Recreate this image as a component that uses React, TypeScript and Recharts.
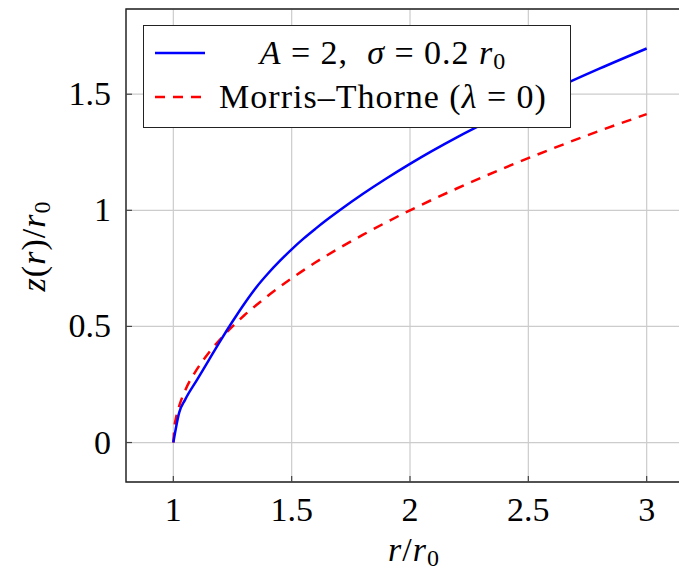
import React from 'react';
import {
  LineChart,
  Line,
  XAxis,
  YAxis,
  CartesianGrid,
  ReferenceArea,
  Legend
} from 'recharts';

// r / r0 and z(r) / r0
const blueR = [1, 1.025, 1.05, 1.1, 1.15, 1.2, 1.25, 1.3, 1.35, 1.4, 1.45, 1.5, 1.55, 1.6, 1.65, 1.7, 1.8, 1.9, 2, 2.2, 2.4, 2.6, 2.8, 3];
const blueZ = [0, 0.13, 0.185, 0.27, 0.355, 0.44, 0.521, 0.598, 0.668, 0.728, 0.782, 0.832, 0.878, 0.92, 0.96, 0.998, 1.07, 1.137, 1.2, 1.315, 1.418, 1.518, 1.61, 1.697];

const mtR = [1, 1.005, 1.01, 1.025, 1.05, 1.1, 1.15, 1.2, 1.3, 1.4, 1.5, 1.6, 1.8, 2, 2.2, 2.4, 2.6, 2.8, 3];
const mtZ = [0, 0.071, 0.1, 0.158, 0.224, 0.316, 0.387, 0.447, 0.548, 0.632, 0.707, 0.775, 0.894, 1.0, 1.095, 1.183, 1.265, 1.342, 1.414];

const xTicks = [1, 1.5, 2, 2.5, 3];
const yTicks = [0, 0.5, 1, 1.5];

const blueData = blueR.map((r, i) => ({ r, z: blueZ[i] }));
const mtData = mtR.map((r, i) => ({ r, z: mtZ[i] }));

const FONT = '"Liberation Serif", "Times New Roman", serif';
const FS = 34;

const XTick = (props: any) => {
  const { x, y, payload } = props;
  return (
    <g>
      <line x1={x} x2={x} y1={y} y2={y - 6} stroke="#444" strokeWidth={1.2} />
      <text x={x} y={y + 39} textAnchor="middle" fontFamily={FONT} fontSize={FS} fill="#000">
        {payload.value}
      </text>
    </g>
  );
};

const YTick = (props: any) => {
  const { x, y, payload } = props;
  return (
    <g>
      <line x1={x} x2={x + 6} y1={y} y2={y} stroke="#444" strokeWidth={1.2} />
      <text x={x - 15} y={y + 11} textAnchor="end" fontFamily={FONT} fontSize={FS} fill="#000">
        {payload.value}
      </text>
    </g>
  );
};

const XLabel = () => (
  <text x={406} y={553} textAnchor="middle" fontFamily={FONT} fontSize={FS} fill="#000" letterSpacing={1}>
    <tspan fontStyle="italic">r</tspan>/<tspan fontStyle="italic">r</tspan>
    <tspan dy={5} fontSize={24}>0</tspan>
  </text>
);

const YLabel = () => (
  <text transform="translate(37,238) rotate(-90)" textAnchor="middle" fontFamily={FONT} fontSize={FS} fill="#000" letterSpacing={1}>
    <tspan fontStyle="italic">z</tspan>(<tspan fontStyle="italic">r</tspan>)/<tspan fontStyle="italic">r</tspan>
    <tspan dy={5} fontSize={24}>0</tspan>
  </text>
);

const LegendBox = () => {
  const row = (top: number, dash: string | undefined, color: string, label: React.ReactNode) => (
    <div style={{ position: 'absolute', left: 0, top, width: '100%', height: 44 }}>
      <svg width={54} height={44} style={{ position: 'absolute', left: 9, top: 0 }}>
        <line x1={2} x2={52} y1={22} y2={22} stroke={color} strokeWidth={2.5} strokeDasharray={dash} />
      </svg>
      <div
        style={{
          position: 'absolute',
          left: 50,
          width: 378,
          top: 0,
          height: 44,
          lineHeight: '44px',
          textAlign: 'center',
          whiteSpace: 'nowrap',
          letterSpacing: 1
        }}
      >
        {label}
      </div>
    </div>
  );
  return (
    <div
      style={{
        position: 'relative',
        width: 428,
        height: 103,
        boxSizing: 'border-box',
        border: '1.3px solid #222',
        background: '#fff',
        fontFamily: FONT,
        fontSize: FS,
        color: '#000'
      }}
    >
      {row(5, undefined, '#0000ff', (
        <span>
          <i>A</i> = 2,&nbsp; <i>σ</i> = 0.2 <i>r</i>
          <sub style={{ fontSize: 24, verticalAlign: '-0.2em' }}>0</sub>
        </span>
      ))}
      {row(49, '10 8', '#ff0000', (
        <span>
          Morris–Thorne (<i>λ</i> = 0)
        </span>
      ))}
    </div>
  );
};

export default function App() {
  return (
    <div style={{ width: 679, height: 568, overflow: 'hidden' }}>
      <style>{'body { margin: 8px 8px 0 8px; }'}</style>
      <LineChart width={700} height={568} margin={{ top: 1, right: 14, left: 0, bottom: 0 }}>
        <CartesianGrid stroke="#cccccc" strokeWidth={1.2} />
        <XAxis
          type="number"
          dataKey="r"
          domain={[0.8, 3.2]}
          ticks={xTicks}
          allowDataOverflow
          height={94}
          tickSize={0}
          tickMargin={0}
          tickLine={false}
          axisLine={false}
          tick={XTick}
          label={<XLabel />}
        />
        <YAxis
          type="number"
          domain={[-0.17, 1.867]}
          ticks={yTicks}
          allowDataOverflow
          width={118}
          tickSize={0}
          tickMargin={0}
          tickLine={false}
          axisLine={false}
          tick={YTick}
          label={<YLabel />}
        />
        <ReferenceArea
          x1={0.8}
          x2={3.2}
          y1={-0.17}
          y2={1.867}
          fill="none"
          stroke="#222"
          strokeWidth={1.4}
          ifOverflow="visible"
        />
        <Line
          data={mtData}
          dataKey="z"
          type="monotone"
          stroke="#ff0000"
          strokeWidth={2.5}
          strokeDasharray="10 8"
          dot={false}
          isAnimationActive={false}
        />
        <Line
          data={blueData}
          dataKey="z"
          type="monotone"
          stroke="#0000ff"
          strokeWidth={2.5}
          dot={false}
          isAnimationActive={false}
        />
        <Legend
          layout="vertical"
          align="center"
          verticalAlign="middle"
          content={() => <LegendBox />}
          wrapperStyle={{ position: 'absolute', left: 135, top: 17, width: 428, height: 103 }}
        />
      </LineChart>
    </div>
  );
}
